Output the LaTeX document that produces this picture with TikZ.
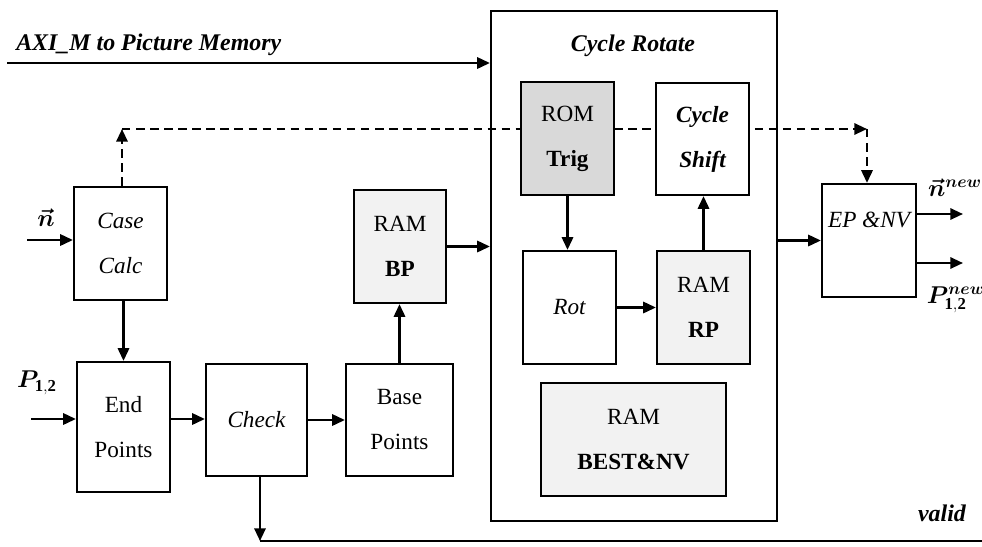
\documentclass[tikz,border=0pt]{standalone}
\usepackage{fontspec}
\usepackage{bm}
\setmainfont{Liberation Serif}
\usetikzlibrary{arrows.meta,backgrounds}

\tikzset{
  x=0.025cm, y=-0.025cm,
  bwh/.style 2 args={minimum width=#1*0.025cm, minimum height=#2*0.025cm},
  blk/.style={draw, line width=1.6pt, fill=white, inner sep=0pt, align=center,
              font=\fontsize{16.5}{32}\selectfont},
  romfill/.style={blk, fill=black!15},
  ramfill/.style={blk, fill=black!5},
  wire/.style={line width=1.6pt},
  arr/.style={wire, -{Triangle[length=9pt,width=8pt]}},
  dasharr/.style={arr, dash pattern=on 6pt off 4pt},
  lbl/.style={font=\fontsize{17}{18}\selectfont\bfseries\itshape, inner sep=0pt},
  mlbl/.style={font=\fontsize{17}{18}\selectfont, inner sep=0pt},
}

\begin{document}
\begin{tikzpicture}
\useasboundingbox (0,0) rectangle (982,547);

% left chain
\node[blk, bwh={93}{113}] (casecalc) at (120.5,243.5) {\itshape Case\\\itshape Calc};
\node[blk, bwh={93}{130}] (endpts) at (123.5,427) {End\\Points};
\node[blk, bwh={101}{112}] (check) at (256.5,420) {\itshape Check};
\node[blk, bwh={107}{112}] (basepts) at (399.5,420) {Base\\Points};
\node[ramfill, bwh={92}{113}] (rambp) at (400,246.5) {RAM\\\bfseries BP};

% Cycle Rotate block
\node[draw, line width=1.6pt, inner sep=0pt, bwh={286}{510}] (cycrot) at (634,266) {};
\node[lbl] (cyctitle) at (633,46) {Cycle Rotate};
\node[romfill, bwh={93}{113}] (romtrig) at (567.5,138.5) {ROM\\\bfseries Trig};
\node[blk, bwh={93}{112}] (cycshift) at (702.5,139) {\bfseries\itshape Cycle\\\bfseries\itshape Shift};
\node[blk, bwh={93}{113}] (rot) at (569.5,307.5) {\itshape Rot};
\node[ramfill, bwh={93}{113}] (ramrp) at (703.5,307.5) {RAM\\\bfseries RP};
\node[ramfill, bwh={185}{113}] (rambest) at (633.5,439.5) {RAM\\\bfseries BEST\&NV};

% output block
\node[blk, bwh={94}{113}] (epnv) at (869,240.5) {};
\node[mlbl, font=\fontsize{16.5}{18}\selectfont\itshape] (epnvtext) at (869,220) {EP \&NV};

% free ends of connectors
\coordinate (axistart) at (7,63);
\coordinate (nin) at (27,240);
\coordinate (pin) at (31,419);
\coordinate (nout) at (963,214);
\coordinate (pout) at (963,263);
\coordinate (dl) at (122,129);
\coordinate (dr) at (867,129);
\coordinate (vbot) at (260,541);
\coordinate (vend) at (982,541);

% dashed control path, running behind the blocks
\begin{scope}[on background layer]
  \draw[dasharr] (casecalc.north -| dl) -- (dl);
  \draw[dasharr] (dl) -- (dr);
  \draw[dasharr] (dr) -- (dr |- epnv.north);
\end{scope}

% data connectors
\draw[arr] (axistart) -- (axistart -| cycrot.west);
\draw[arr] (nin) -- (nin -| casecalc.west);
\draw[arr] (pin) -- (pin -| endpts.west);
\draw[arr] (endpts.north |- casecalc.south) -- (endpts.north);
\draw[arr] (endpts.east |- pin) -- (check.west |- pin);
\draw[arr] (check.east) -- (basepts.west);
\draw[arr] (basepts.north) -- (basepts.north |- rambp.south);
\draw[arr] (rambp.east) -- (rambp.east -| cycrot.west);
\draw[arr] (romtrig.south) -- (romtrig.south |- rot.north);
\draw[arr] (rot.east) -- (ramrp.west);
\draw[arr] (ramrp.north) -- (ramrp.north |- cycshift.south);
\draw[arr] (cycrot.east |- epnv.west) -- (epnv.west);
\draw[arr] (nout -| epnv.east) -- (nout);
\draw[arr] (pout -| epnv.east) -- (pout);
\draw[arr] (check.south -| vbot) -- (vbot);
\draw[wire] (vbot) -- (vend);

% signal labels
\node[lbl, anchor=west] (axitext) at (16,45) {AXI\_M to Picture Memory};
\node[mlbl] (nlabel) at (46,218) {$\bm{\vec{n}}$};
\node[mlbl] (plabel) at (37,383) {$\bm{P}_{\mathbf{1,2}}$};
\node[mlbl] (nnew) at (955,188) {$\bm{\vec{n}}^{\bm{new}}$};
\node[mlbl] (pnew) at (956,300) {$\bm{P}^{\bm{new}}_{\mathbf{1,2}}$};
\node[lbl] (validtext) at (942,513) {valid};
\end{tikzpicture}
\end{document}
